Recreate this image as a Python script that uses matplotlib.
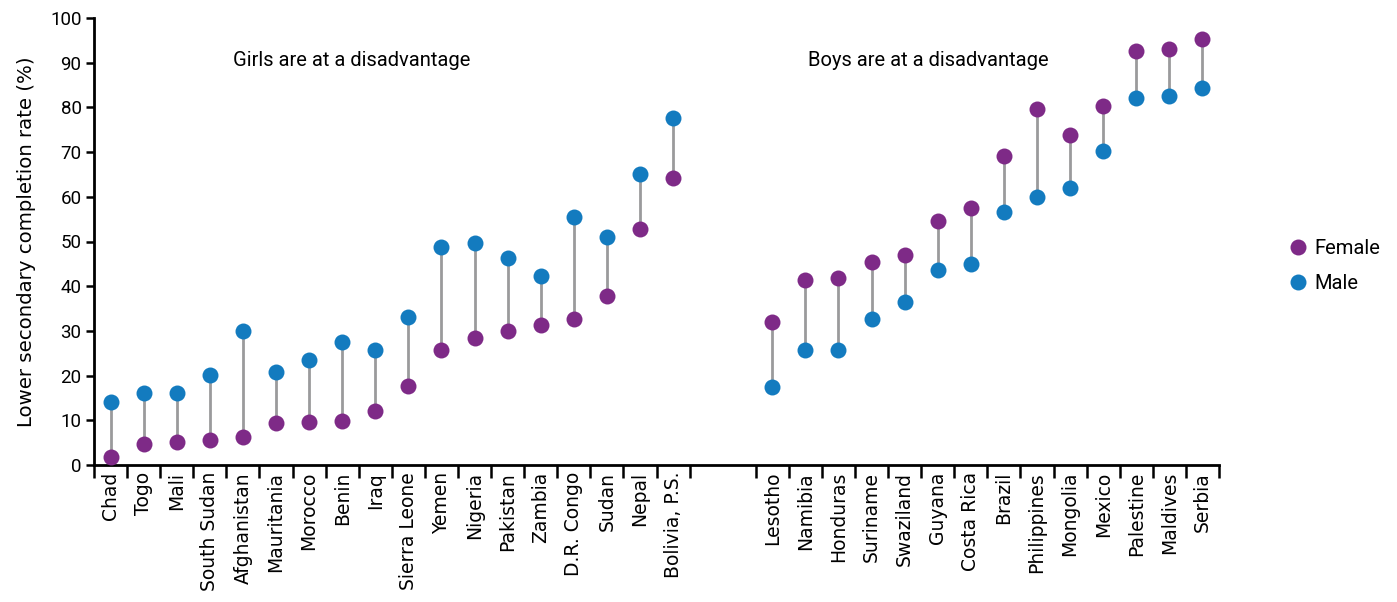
import matplotlib
matplotlib.use("Agg")
import matplotlib.pyplot as plt
from matplotlib.lines import Line2D
import numpy as np

group1 = ["Chad", "Togo", "Mali", "South Sudan", "Afghanistan", "Mauritania", "Morocco",
          "Benin", "Iraq", "Sierra Leone", "Yemen", "Nigeria", "Pakistan", "Zambia",
          "D.R. Congo", "Sudan", "Nepal", "Bolivia, P.S."]
female1 = [1.9, 4.7, 5.1, 5.6, 6.3, 9.5, 9.6, 9.8, 12.1, 17.7, 25.7, 28.5, 30.0, 31.3,
           32.7, 37.9, 52.8, 64.1]
male1 = [14.2, 16.0, 16.0, 20.1, 30.0, 20.7, 23.6, 27.5, 25.7, 33.2, 48.8, 49.7, 46.4,
         42.3, 55.4, 51.1, 65.1, 77.7]

group2 = ["Lesotho", "Namibia", "Honduras", "Suriname", "Swaziland", "Guyana", "Costa Rica",
          "Brazil", "Philippines", "Mongolia", "Mexico", "Palestine", "Maldives", "Serbia"]
female2 = [32.1, 41.4, 41.9, 45.4, 47.0, 54.6, 57.6, 69.1, 79.6, 73.8, 80.3, 92.6, 93.1, 95.3]
male2 = [17.5, 25.7, 25.7, 32.6, 36.5, 43.6, 44.9, 56.7, 60.0, 61.9, 70.2, 82.0, 82.6, 84.3]

yticks = list(range(0, 101, 10))
ylabel = "Lower secondary completion rate (%)"
note1 = "Girls are at a disadvantage"
note2 = "Boys are at a disadvantage"

FEMALE = "#7e2a87"
MALE = "#137bbf"
LINE = "#9a9a9c"
GAP = 2

n1, n2 = len(group1), len(group2)
x1 = np.arange(n1) + 0.5
x2 = np.arange(n2) + n1 + GAP + 0.5
xs = np.concatenate([x1, x2])
fem = np.array(female1 + female2)
mal = np.array(male1 + male2)
labels = group1 + group2
total = n1 + GAP + n2

fig = plt.figure(figsize=(13.97, 6.02), dpi=100)
ax = fig.add_axes([94 / 1397, 1 - 465 / 602, (1219 - 94) / 1397, (465 - 18) / 602])

ax.vlines(xs, np.minimum(fem, mal), np.maximum(fem, mal), color=LINE, lw=2, zorder=1)
ax.plot(xs, fem, "o", color=FEMALE, ms=11.5, mec="none", zorder=3)
ax.plot(xs, mal, "o", color=MALE, ms=11.5, mec="none", zorder=3)

ax.set_xlim(0, total)
ax.set_ylim(0, 100)
major = list(range(0, n1 + 1)) + list(range(n1 + GAP, total + 1))
ax.set_xticks(major)
ax.set_xticklabels([])
ax.set_xticks(xs, minor=True)
ax.set_xticklabels(labels, minor=True, rotation=90, fontsize=13.5, family="DejaVu Sans")
ax.tick_params(axis="x", which="major", length=9, width=1.8, direction="out")
ax.tick_params(axis="x", which="minor", length=0, pad=5)
ax.set_yticks(yticks)
ax.set_yticklabels([str(v) for v in yticks], fontsize=13.5, family="Roboto")
ax.tick_params(axis="y", length=6, width=1.8, pad=3)

for s in ["top", "right"]:
    ax.spines[s].set_visible(False)
for s in ["left", "bottom"]:
    ax.spines[s].set_linewidth(2)
    ax.spines[s].set_color("black")

ax.set_ylabel(ylabel, fontsize=14.2, family="DejaVu Sans", labelpad=10)

ax.text(n1 / 2 - 1.2, 90.5, note1, ha="center", va="center", fontsize=14.5, family="Roboto")
ax.text(n1 + GAP + n2 / 2 - 1.8, 90.5, note2, ha="center", va="center", fontsize=14.5, family="Roboto")

handles = [Line2D([], [], ls="none", marker="o", color=FEMALE, ms=11.5, mec="none"),
           Line2D([], [], ls="none", marker="o", color=MALE, ms=11.5, mec="none")]
fig.legend(handles, ["Female", "Male"], loc="center left",
           bbox_to_anchor=(1270 / 1397, 1 - 266 / 602), frameon=False,
           prop={"family": "Roboto", "size": 14.5}, handletextpad=0.3,
           labelspacing=0.75, handlelength=1.0)

fig.savefig("out.png", dpi=100)
